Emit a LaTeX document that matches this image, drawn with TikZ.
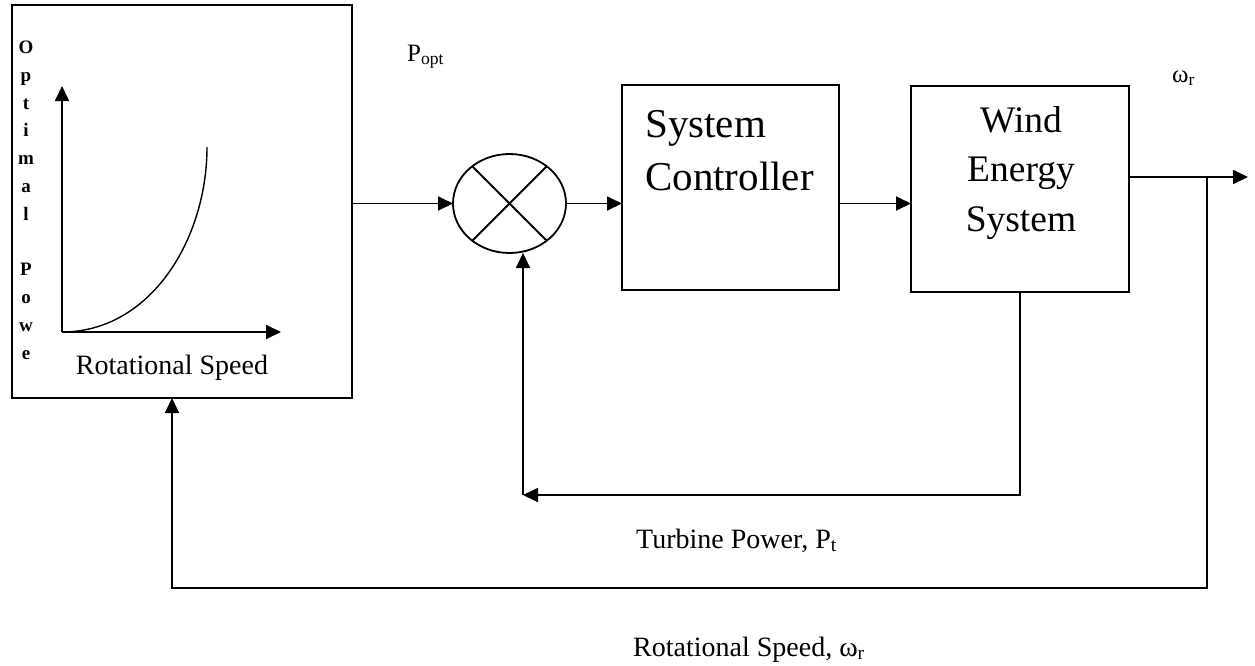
\documentclass[tikz,border=0pt]{standalone}
\usepackage{fontspec}
\setmainfont{Liberation Serif}
\usetikzlibrary{shapes.geometric,arrows.meta}
\begin{document}
\begin{tikzpicture}[x=1pt,y=-1pt,
  lw/.style={line width=1.8pt},
  arr/.style={lw,-{Triangle[length=15pt,width=14pt]}},
  blk/.style={draw,lw,inner sep=0pt,outer sep=0pt,anchor=north west},
  lbl/.style={inner sep=0pt,anchor=base west,font=\fontsize{28}{34}\selectfont},
  vl/.style={inner sep=0pt,anchor=base,font=\bfseries\fontsize{19}{23}\selectfont},
]
\useasboundingbox (0,0) rectangle (1255,665);
% blocks
\node[blk,minimum width=340pt,minimum height=393pt] (opt) at (12,5) {};
\node[blk,minimum width=217pt,minimum height=205pt] (sc) at (622,85) {};
\node[blk,minimum width=218pt,minimum height=206pt] (wes) at (911,86) {};
\node[draw,lw,ellipse,minimum width=113pt,minimum height=99pt,inner sep=0pt,outer sep=0pt] (sum) at (509.5,203.5) {};
\draw[lw] (sum.45) -- (sum.225);
\draw[lw] (sum.135) -- (sum.315);
% block texts
\node[inner sep=0pt,anchor=base west,font=\fontsize{41}{50}\selectfont] (sct1) at (645,137) {System};
\node[inner sep=0pt,anchor=base west,font=\fontsize{41}{50}\selectfont] (sct2) at (645,190) {Controller};
\node[inner sep=0pt,anchor=base,font=\fontsize{37.5}{46}\selectfont] (wt1) at (1021,132) {Wind};
\node[inner sep=0pt,anchor=base,font=\fontsize{37.5}{46}\selectfont] (wt2) at (1021,181) {Energy};
\node[inner sep=0pt,anchor=base,font=\fontsize{37.5}{46}\selectfont] (wt3) at (1021,231) {System};
% inner graph
\coordinate (o) at (62,332);
\coordinate (ytip) at (62,86);
\coordinate (xtip) at (281,332);
\draw[arr] (o) -- (ytip);
\draw[arr] (o) -- (xtip);
\draw[line width=1.4pt] (o) .. controls (150,332) and (207,240) .. (207,147);
\foreach \ch [count=\i] in {O,p,t,i,m,a,l,{},P,o,w,e}
  \node[vl] (v\i) at (26,{53.5+27.8*(\i-1)}) {\ch};
\node[inner sep=0pt,anchor=base,font=\fontsize{28}{34}\selectfont] (rsp) at (172,374) {Rotational Speed};
% connectors
\draw[arr] (opt.east |- sum.west) -- (sum.west);
\draw[arr] (sum.east) -- (sum.east -| sc.west);
\draw[arr] (sum.east -| sc.east) -- (sum.east -| wes.west);
\coordinate (out) at (1248,177);
\coordinate (br) at (1207,177);
\coordinate (b1) at (1207,588);
\coordinate (b2) at (172,588);
\draw[arr] (out -| wes.east) -- (out);
\draw[arr] (br) -- (b1) -- (b2) -- (b2 |- opt.south);
\coordinate (f2) at (523,495);
\draw[arr] (wes.south) |- (f2);
\draw[arr] (f2) -- (f2 |- sum.south);
% labels
\node[lbl,font=\fontsize{25}{30}\selectfont] (popt) at (407,61) {P\textsubscript{opt}};
\node[lbl,font=\fontsize{25}{30}\selectfont] (wr) at (1172,82) {ω\textsubscript{r}};
\node[lbl] (tp) at (636,548) {Turbine Power, P\textsubscript{t}};
\node[lbl] (rs) at (633,656) {Rotational Speed, ω\textsubscript{r}};
\end{tikzpicture}
\end{document}
